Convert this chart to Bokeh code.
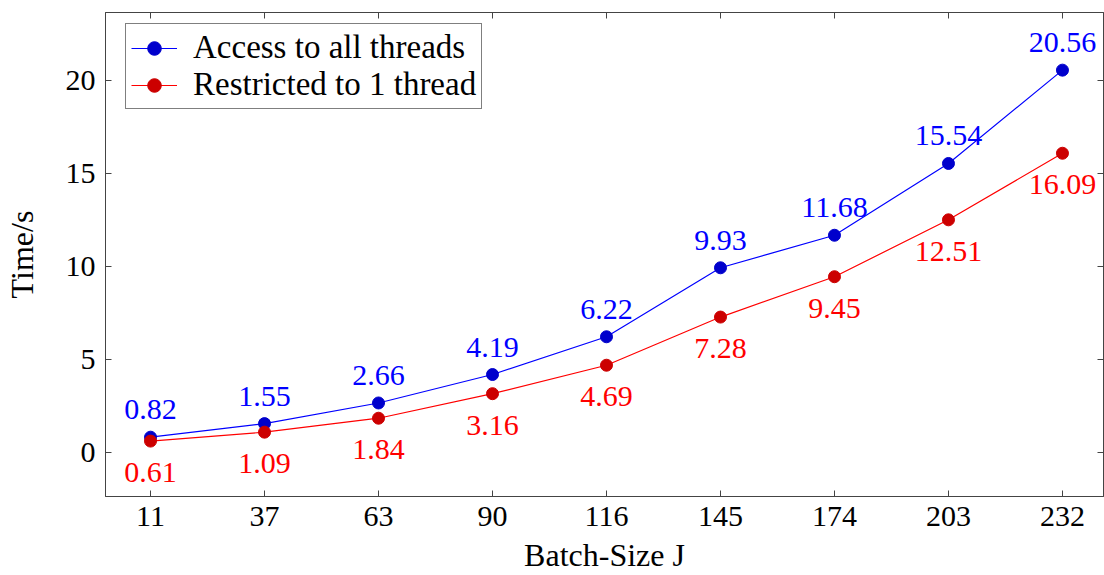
from bokeh.plotting import figure
from bokeh.models import (ColumnDataSource, LinearAxis, FixedTicker, LabelSet,
                          Legend, LegendItem, Range1d)
from bokeh.core.properties import value
from bokeh.embed import file_html
from bokeh.resources import INLINE

categories = ["11", "37", "63", "90", "116", "145", "174", "203", "232"]
all_threads = [0.82, 1.55, 2.66, 4.19, 6.22, 9.93, 11.68, 15.54, 20.56]
one_thread = [0.61, 1.09, 1.84, 3.16, 4.69, 7.28, 9.45, 12.51, 16.09]
y_ticks = [0, 5, 10, 15, 20]

FONT = "Liberation Serif"
FS = "30px"
FS_BIG = "32px"
AX = "#444444"

xpos = list(range(len(categories)))
src = ColumnDataSource(dict(
    x=xpos, a=all_threads, b=one_thread,
    la=["%.2f" % v for v in all_threads],
    lb=["%.2f" % v for v in one_thread],
))

p = figure(width=1104, height=575, output_backend="svg", toolbar_location=None,
           x_range=Range1d(-0.395, 8.36), y_range=Range1d(-2.37, 23.66),
           min_border_left=105, min_border_right=1, min_border_top=12,
           min_border_bottom=79, x_axis_location=None, y_axis_location=None)
p.xgrid.visible = False
p.ygrid.visible = False
p.outline_line_color = AX
p.outline_line_width = 1
p.background_fill_color = "white"
p.border_fill_color = "white"

def style_axis(ax, labels=True):
    ax.axis_line_color = AX
    ax.axis_line_width = 1
    ax.major_tick_line_color = AX
    ax.major_tick_in = 6
    ax.major_tick_out = 0
    ax.minor_tick_line_color = None
    ax.major_label_text_font = FONT
    ax.major_label_text_color = "black"
    ax.axis_label_text_font = FONT
    ax.axis_label_text_font_style = "normal"
    ax.axis_label_text_color = "black"
    ax.axis_label_text_font_size = FS_BIG
    if labels:
        ax.major_label_text_font_size = FS
    else:
        ax.major_label_text_font_size = "1px"
        ax.major_label_standoff = 0

xb = LinearAxis(ticker=FixedTicker(ticks=xpos),
                major_label_overrides={i: c for i, c in enumerate(categories)},
                axis_label="Batch-Size J")
style_axis(xb)
xb.major_label_standoff = 10
xb.axis_label_standoff = 8
p.add_layout(xb, "below")

yl = LinearAxis(ticker=FixedTicker(ticks=y_ticks), axis_label="Time/s")
style_axis(yl)
yl.major_label_standoff = 10
yl.axis_label_standoff = 23
p.add_layout(yl, "left")

xt = LinearAxis(ticker=FixedTicker(ticks=xpos),
                major_label_overrides={i: "" for i in xpos})
style_axis(xt, labels=False)
p.add_layout(xt, "above")

yr = LinearAxis(ticker=FixedTicker(ticks=y_ticks),
                major_label_overrides={t: "" for t in y_ticks})
style_axis(yr, labels=False)
p.add_layout(yr, "right")

la = p.line("x", "a", source=src, line_color="#0000ff", line_width=1.2)
sa = p.scatter("x", "a", source=src, size=12, fill_color="#0000cc",
               line_color="#0000cc")
lb = p.line("x", "b", source=src, line_color="#ff0000", line_width=1.2)
sb = p.scatter("x", "b", source=src, size=12, fill_color="#cc0000",
               line_color="#cc0000")

p.add_layout(LabelSet(x="x", y="a", text="la", source=src, text_align="center",
                      text_baseline="alphabetic", y_offset=18,
                      text_font=value(FONT), text_font_size=value(FS),
                      text_color="#0000ff"))
p.add_layout(LabelSet(x="x", y="b", text="lb", source=src, text_align="center",
                      text_baseline="alphabetic", y_offset=-41,
                      text_font=value(FONT), text_font_size=value(FS),
                      text_color="#ff0000"))

legend = Legend(items=[
    LegendItem(label="Access to all threads", renderers=[la, sa]),
    LegendItem(label="Restricted to 1 thread", renderers=[lb, sb]),
], location=(20, 387))
legend.label_text_font = FONT
legend.label_text_font_size = "33px"
legend.label_text_color = "black"
legend.border_line_color = "black"
legend.border_line_width = 1
legend.background_fill_alpha = 1
legend.glyph_width = 46
legend.glyph_height = 34
legend.label_height = 34
legend.label_standoff = 16
legend.padding = 5
legend.spacing = 0
legend.margin = 0
p.add_layout(legend, "center")

open("out.html", "w").write(file_html(p, INLINE))
